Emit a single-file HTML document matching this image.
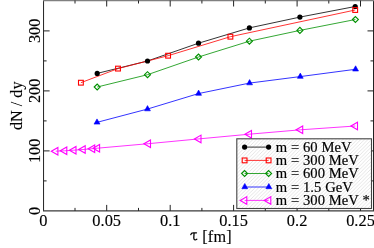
<!DOCTYPE html>
<html><head><meta charset="utf-8"><title>plot</title>
<style>
html,body{margin:0;padding:0;background:#fff;}
body{width:374px;height:248px;overflow:hidden;font-family:"Liberation Serif",serif;}
svg{display:block;}
text{font-family:"Liberation Serif",serif;fill:#000;}
</style></head><body>
<svg width="374" height="248" viewBox="0 0 374 248">
<defs>
<pattern id="hatch" width="3.6" height="3.6" patternUnits="userSpaceOnUse">
<rect width="3.6" height="3.6" fill="#fff"/>
<path d="M-0.9,4.5 L4.5,-0.9 M-0.9,0.9 L0.9,-0.9 M2.7,4.5 L4.5,2.7" stroke="#d6d6d6" stroke-width="0.65"/>
</pattern>
</defs>
<rect width="374" height="248" fill="#fff"/>
<g stroke="#222" stroke-width="1" fill="none">
<path d="M43.55,0 V211 M373.5,0 V211"/>
<path d="M43,210.85 H374" stroke-width="1.4" stroke="#3a3a3a"/>
<path d="M43,0.6 H374" stroke-width="1.4" stroke="#808080"/>
<path d="M75.0,210.9 v-3 M75.0,0.5 v3"/>
<path d="M106.7,210.9 v-6 M106.7,0.5 v6"/>
<path d="M138.5,210.9 v-3 M138.5,0.5 v3"/>
<path d="M170.2,210.9 v-6 M170.2,0.5 v6"/>
<path d="M201.9,210.9 v-3 M201.9,0.5 v3"/>
<path d="M233.6,210.9 v-6 M233.6,0.5 v6"/>
<path d="M265.3,210.9 v-3 M265.3,0.5 v3"/>
<path d="M297.1,210.9 v-6 M297.1,0.5 v6"/>
<path d="M328.8,210.9 v-3 M328.8,0.5 v3"/>
<path d="M360.5,210.9 v-6 M360.5,0.5 v6"/>
<path d="M43.6,180.9 h3 M373.5,180.9 h-3"/>
<path d="M43.6,150.9 h6 M373.5,150.9 h-6"/>
<path d="M43.6,120.9 h3 M373.5,120.9 h-3"/>
<path d="M43.6,90.9 h6 M373.5,90.9 h-6"/>
<path d="M43.6,60.9 h3 M373.5,60.9 h-3"/>
<path d="M43.6,30.9 h6 M373.5,30.9 h-6"/>
</g>
<polyline fill="none" stroke="#000" stroke-width="0.8" points="97.2,73.4 147.5,61.0 198.5,43.2 249.4,27.9 299.9,17.1 355.2,6.5"/>
<polyline fill="none" stroke="#f00" stroke-width="0.8" points="80.9,82.7 118.0,68.6 168.1,55.7 230.4,36.7 355.2,10.0"/>
<polyline fill="none" stroke="#009000" stroke-width="0.8" points="97.2,87.0 147.5,74.7 198.5,57.0 249.4,41.2 299.9,30.4 355.4,19.5"/>
<polyline fill="none" stroke="#00f" stroke-width="0.8" points="96.8,122.4 147.3,109.1 198.4,93.6 249.4,83.1 300.1,76.6 355.4,69.3"/>
<polyline fill="none" stroke="#f0f" stroke-width="0.8" points="55.7,151.2 64.6,150.8 73.8,150.2 83.0,149.5 92.5,148.7 97.4,148.2 148.3,143.7 198.8,138.9 249.3,134.2 300.5,129.8 355.3,126.0"/>
<circle cx="97.2" cy="73.4" r="2.6" fill="#000"/>
<circle cx="147.5" cy="61.0" r="2.6" fill="#000"/>
<circle cx="198.5" cy="43.2" r="2.6" fill="#000"/>
<circle cx="249.4" cy="27.9" r="2.6" fill="#000"/>
<circle cx="299.9" cy="17.1" r="2.6" fill="#000"/>
<circle cx="355.2" cy="6.5" r="2.6" fill="#000"/>
<rect x="78.5" y="80.3" width="4.8" height="4.8" fill="none" stroke="#f00" stroke-width="1.1"/>
<rect x="115.6" y="66.2" width="4.8" height="4.8" fill="none" stroke="#f00" stroke-width="1.1"/>
<rect x="165.7" y="53.3" width="4.8" height="4.8" fill="none" stroke="#f00" stroke-width="1.1"/>
<rect x="228.0" y="34.3" width="4.8" height="4.8" fill="none" stroke="#f00" stroke-width="1.1"/>
<rect x="352.8" y="7.6" width="4.8" height="4.8" fill="none" stroke="#f00" stroke-width="1.1"/>
<polygon points="94.2,87.0 97.2,84.0 100.2,87.0 97.2,90.0" fill="none" stroke="#009000" stroke-width="1.1"/>
<polygon points="144.5,74.7 147.5,71.7 150.5,74.7 147.5,77.7" fill="none" stroke="#009000" stroke-width="1.1"/>
<polygon points="195.5,57.0 198.5,54.0 201.5,57.0 198.5,60.0" fill="none" stroke="#009000" stroke-width="1.1"/>
<polygon points="246.4,41.2 249.4,38.2 252.4,41.2 249.4,44.2" fill="none" stroke="#009000" stroke-width="1.1"/>
<polygon points="296.9,30.4 299.9,27.4 302.9,30.4 299.9,33.4" fill="none" stroke="#009000" stroke-width="1.1"/>
<polygon points="352.4,19.5 355.4,16.5 358.4,19.5 355.4,22.5" fill="none" stroke="#009000" stroke-width="1.1"/>
<polygon points="97.0,118.9 100.0,124.1 94.0,124.1" fill="#00f" stroke="#00f" stroke-width="0.6"/>
<polygon points="147.5,105.6 150.4,110.8 144.6,110.8" fill="#00f" stroke="#00f" stroke-width="0.6"/>
<polygon points="198.6,90.1 201.5,95.3 195.7,95.3" fill="#00f" stroke="#00f" stroke-width="0.6"/>
<polygon points="249.6,79.6 252.5,84.8 246.7,84.8" fill="#00f" stroke="#00f" stroke-width="0.6"/>
<polygon points="300.3,73.1 303.2,78.3 297.4,78.3" fill="#00f" stroke="#00f" stroke-width="0.6"/>
<polygon points="355.6,65.8 358.5,71.0 352.6,71.0" fill="#00f" stroke="#00f" stroke-width="0.6"/>
<polygon points="51.3,151.2 57.9,147.4 57.9,155.0" fill="none" stroke="#f0f" stroke-width="1.1"/>
<polygon points="60.2,150.8 66.8,147.0 66.8,154.6" fill="none" stroke="#f0f" stroke-width="1.1"/>
<polygon points="69.4,150.2 76.0,146.4 76.0,154.0" fill="none" stroke="#f0f" stroke-width="1.1"/>
<polygon points="78.6,149.5 85.2,145.7 85.2,153.3" fill="none" stroke="#f0f" stroke-width="1.1"/>
<polygon points="88.1,148.7 94.7,144.9 94.7,152.5" fill="none" stroke="#f0f" stroke-width="1.1"/>
<polygon points="93.0,148.2 99.6,144.4 99.6,152.0" fill="none" stroke="#f0f" stroke-width="1.1"/>
<polygon points="143.9,143.7 150.5,139.9 150.5,147.5" fill="none" stroke="#f0f" stroke-width="1.1"/>
<polygon points="194.4,138.9 201.0,135.1 201.0,142.7" fill="none" stroke="#f0f" stroke-width="1.1"/>
<polygon points="244.9,134.2 251.5,130.4 251.5,138.0" fill="none" stroke="#f0f" stroke-width="1.1"/>
<polygon points="296.1,129.8 302.7,126.0 302.7,133.6" fill="none" stroke="#f0f" stroke-width="1.1"/>
<polygon points="350.9,126.0 357.5,122.2 357.5,129.8" fill="none" stroke="#f0f" stroke-width="1.1"/>
<rect x="236.8" y="138.8" width="134.7" height="69.7" fill="url(#hatch)" stroke="#444" stroke-width="1.1"/>
<polyline fill="none" stroke="#000" stroke-width="0.8" points="244.6,147.1 268.6,147.1"/>
<circle cx="244.6" cy="147.1" r="2.6" fill="#000"/>
<circle cx="268.6" cy="147.1" r="2.6" fill="#000"/>
<polyline fill="none" stroke="#f00" stroke-width="0.8" points="244.6,160.4 268.6,160.4"/>
<rect x="242.2" y="158.0" width="4.8" height="4.8" fill="none" stroke="#f00" stroke-width="1.1"/>
<rect x="266.2" y="158.0" width="4.8" height="4.8" fill="none" stroke="#f00" stroke-width="1.1"/>
<polyline fill="none" stroke="#009000" stroke-width="0.8" points="244.6,173.5 268.6,173.5"/>
<polygon points="241.6,173.5 244.6,170.5 247.6,173.5 244.6,176.5" fill="none" stroke="#009000" stroke-width="1.1"/>
<polygon points="265.6,173.5 268.6,170.5 271.6,173.5 268.6,176.5" fill="none" stroke="#009000" stroke-width="1.1"/>
<polyline fill="none" stroke="#00f" stroke-width="0.8" points="244.6,187.0 268.6,187.0"/>
<polygon points="244.8,183.5 247.7,188.7 241.8,188.7" fill="#00f" stroke="#00f" stroke-width="0.6"/>
<polygon points="268.8,183.5 271.8,188.7 265.9,188.7" fill="#00f" stroke="#00f" stroke-width="0.6"/>
<polyline fill="none" stroke="#f0f" stroke-width="0.8" points="244.6,200.4 268.6,200.4"/>
<polygon points="240.2,200.4 246.8,196.6 246.8,204.2" fill="none" stroke="#f0f" stroke-width="1.1"/>
<polygon points="264.2,200.4 270.8,196.6 270.8,204.2" fill="none" stroke="#f0f" stroke-width="1.1"/>
<g opacity="0.999" stroke="#000" stroke-width="0.15">
<text x="275.8" y="152.0" font-size="14.6" word-spacing="0.2" stroke="#000" stroke-width="0.2">m = 60 MeV</text>
<text x="275.8" y="165.3" font-size="14.6" word-spacing="0.2" stroke="#000" stroke-width="0.2">m = 300 MeV</text>
<text x="275.8" y="178.4" font-size="14.6" word-spacing="0.2" stroke="#000" stroke-width="0.2">m = 600 MeV</text>
<text x="275.8" y="191.9" font-size="14.6" word-spacing="0.2" stroke="#000" stroke-width="0.2">m = 1.5 GeV</text>
<text x="275.8" y="205.3" font-size="14.6" word-spacing="0.2" stroke="#000" stroke-width="0.2">m = 300 MeV *</text>
<text transform="translate(43.3,225.6) scale(0.965,1)" font-size="17" text-anchor="middle">0</text>
<text transform="translate(106.7,225.6) scale(0.965,1)" font-size="17" text-anchor="middle">0.05</text>
<text transform="translate(170.2,225.6) scale(0.965,1)" font-size="17" text-anchor="middle">0.1</text>
<text transform="translate(233.6,225.6) scale(0.965,1)" font-size="17" text-anchor="middle">0.15</text>
<text transform="translate(297.1,225.6) scale(0.965,1)" font-size="17" text-anchor="middle">0.2</text>
<text transform="translate(360.5,225.6) scale(0.965,1)" font-size="17" text-anchor="middle">0.25</text>
<text transform="translate(40.2,210.8) rotate(-90) scale(0.965,1)" font-size="17" text-anchor="middle">0</text>
<text transform="translate(40.2,150.8) rotate(-90) scale(0.965,1)" font-size="17" text-anchor="middle">100</text>
<text transform="translate(40.2,90.8) rotate(-90) scale(0.965,1)" font-size="17" text-anchor="middle">200</text>
<text transform="translate(40.2,30.8) rotate(-90) scale(0.965,1)" font-size="17" text-anchor="middle">300</text>
<text transform="translate(21.9,105.8) rotate(-90)" font-size="16.2" text-anchor="middle">dN / dy</text>
<text transform="translate(202.2,241.6)" font-size="16.2" letter-spacing="0.25">[fm]</text>
<path d="M190.8,234.7 C191.1,233.4 191.9,232.8 193.2,232.8 H196.5 M194.1,232.8 C194,235 193.8,236.5 193.8,238 C193.8,239.8 195,240.5 196.8,239.2" stroke="#000" stroke-width="1.3" fill="none" stroke-linecap="round"/>
</g>
</svg></body></html>
